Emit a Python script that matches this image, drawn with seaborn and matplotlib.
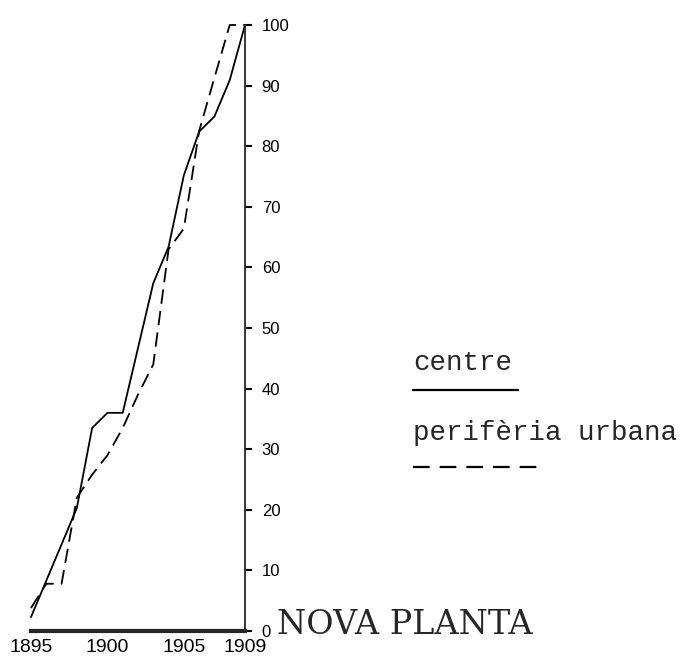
import pandas as pd
import matplotlib
matplotlib.use("Agg")
import matplotlib.pyplot as plt
from matplotlib.lines import Line2D
import seaborn as sns

# ---------------------------
# Data (cumulative %)
# ---------------------------
years = list(range(1895, 1910))
centre = [2.3, 8.3, 14.3, 20.3, 33.5, 36.0, 36.0, 46.7, 57.4, 63.4, 75.2, 82.4, 84.9, 90.9, 100.0]
periferia = [3.8, 7.8, 7.8, 22.0, 25.8, 29.0, 33.5, 39.0, 44.0, 63.0, 66.4, 82.5, 91.3, 100.0, 100.0]
xtick_years = [1895, 1900, 1905, 1909]
ytick_vals = list(range(0, 101, 10))

df = pd.DataFrame({"any": years, "centre": centre, "periferia": periferia})

sns.set_style("white")
plt.rcParams["font.family"] = ["Liberation Sans", "DejaVu Sans"]

W, H = 685, 659
fig = plt.figure(figsize=(W / 100, H / 100), dpi=100)
ax = fig.add_axes([31 / W, 28 / H, 214 / W, 606 / H])

sns.lineplot(data=df, x="any", y="centre", color="black", lw=1.3, clip_on=False, ax=ax)
sns.lineplot(data=df, x="any", y="periferia", color="black", lw=1.3, clip_on=False, ax=ax)
ax.lines[-1].set_dashes((8, 4))

ax.set_xlim(1895, 1909)
ax.set_ylim(0, 100)
ax.set_xlabel("")
ax.set_ylabel("")

# axes look: y axis on the right, thick base line
for s in ["left", "top"]:
    ax.spines[s].set_visible(False)
ax.spines["right"].set_linewidth(1.3)
ax.spines["bottom"].set_linewidth(3)
ax.yaxis.tick_right()
ax.set_yticks(ytick_vals)
ax.set_yticklabels([str(v) for v in ytick_vals])
ax.set_xticks(xtick_years)
ax.set_xticklabels([str(v) for v in xtick_years])
ax.tick_params(axis="y", direction="out", length=5, width=1.5, pad=7, labelsize=12, colors="black")
ax.tick_params(axis="x", length=0, pad=6, labelsize=14, colors="black")

# ---------------------------
# Legend and title (text above the line sample)
# ---------------------------
leg_font = ["Liberation Mono", "DejaVu Sans Mono"]
fig.text(413 / W, 1 - 370 / H, "centre", fontsize=19.8, family=leg_font, va="baseline")
fig.add_artist(Line2D([413 / W, 518 / W], [1 - 390 / H] * 2, color="black", lw=1.6,
                      transform=fig.transFigure))
fig.text(413 / W, 1 - 440 / H, "perifèria urbana", fontsize=19.8, family=leg_font, va="baseline")
dash = Line2D([413 / W, 543 / W], [1 - 467 / H] * 2, color="black", lw=1.6,
              transform=fig.transFigure)
dash.set_dashes((7.5, 4.5))
fig.add_artist(dash)

fig.text(277 / W, 1 - 634 / H, "NOVA PLANTA", fontsize=24, family=["DejaVu Serif"], va="baseline")

fig.savefig("out.png", dpi=100)
